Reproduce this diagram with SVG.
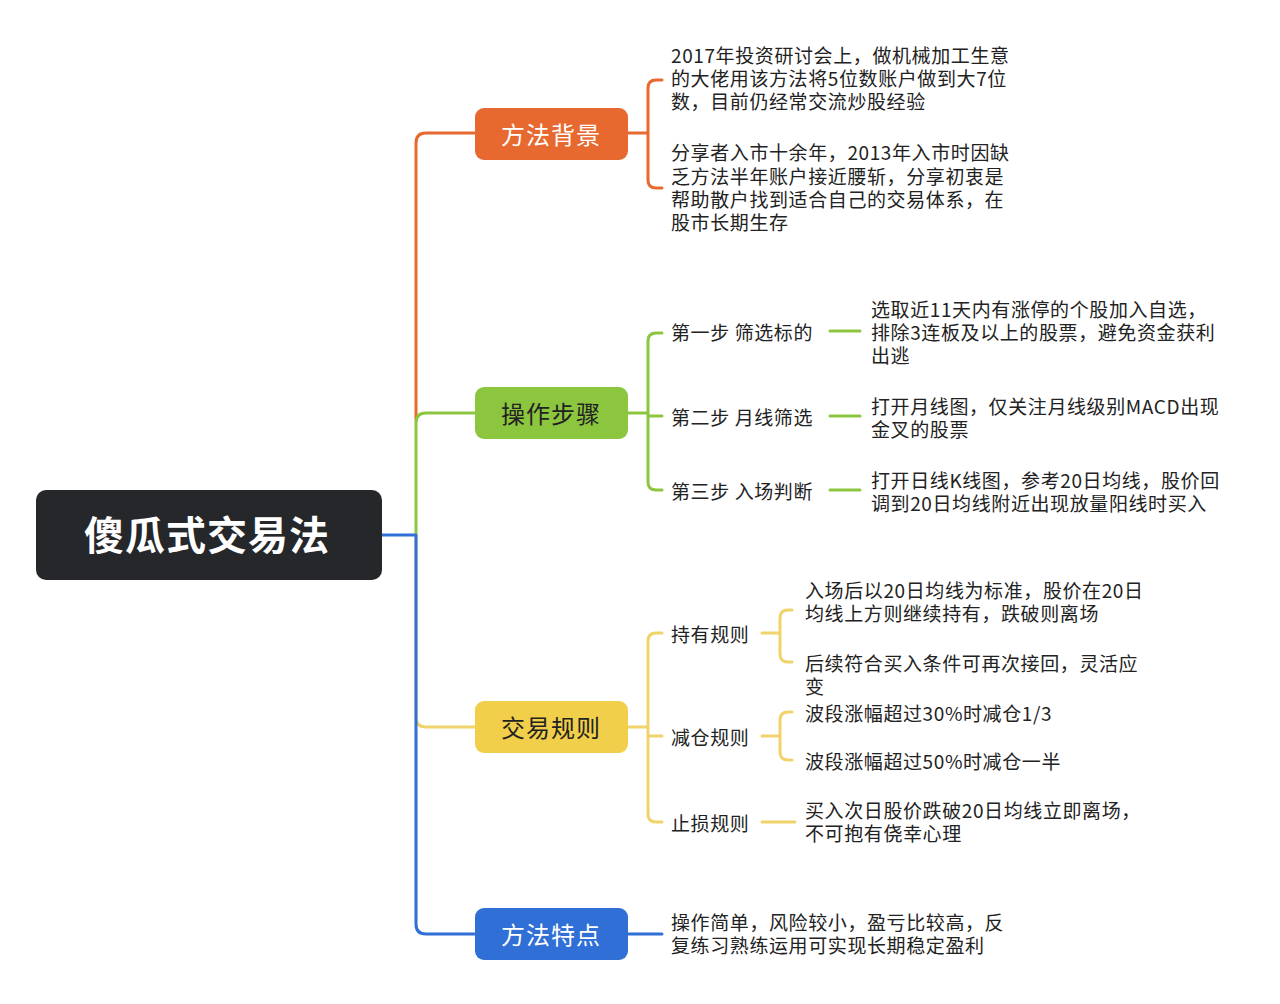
<svg xmlns="http://www.w3.org/2000/svg" width="1280" height="1004" viewBox="0 0 1280 1004">
<style>
text{font-family:"Noto Sans CJK SC","Noto Sans",sans-serif;font-size:19px;letter-spacing:0.6px;fill:#222;dominant-baseline:central}
.c{fill:none;stroke-width:3;stroke-linecap:round;stroke-linejoin:round}
.o{stroke:#e8692f}.g{stroke:#8cc63f}.y{stroke:#f0d36a}.b{stroke:#2f6fd6}
.bt{font-size:24px;text-anchor:middle;letter-spacing:1px}
</style>
<rect width="1280" height="1004" fill="#fff"/>
<g id="connectors">
<path class="c o" d="M416 420 V143 Q416 133 426 133 H475"/>
<path class="c g" d="M416 535 V423 Q416 413 426 413 H475"/>
<path class="c y" d="M416 535 V717 Q416 727 426 727 H475"/>
<path class="c b" d="M382 535 H416 V924 Q416 934 426 934 H475"/>
<path class="c o" d="M628 133 H648 M662 80 H656 Q648 80 648 88 V180 Q648 188 656 188 H662"/>
<path class="c g" d="M628 413 H648 M662 333 H656 Q648 333 648 341 V482 Q648 490 656 490 H662 M648 416 H662 M830 331 H860 M830 416 H860 M830 490 H860"/>
<path class="c y" d="M628 727 H648 M662 633 H656 Q648 633 648 641 V814 Q648 822 656 822 H662 M648 736 H662"/>
<path class="c y" d="M762 633 H780 M792 610 H788 Q780 610 780 618 V654 Q780 662 788 662 H792"/>
<path class="c y" d="M762 736 H780 M792 712 H788 Q780 712 780 720 V752 Q780 760 788 760 H792"/>
<path class="c y" d="M762 822 H795"/>
<path class="c b" d="M628 934 H662"/>
</g>
<g id="root"><rect x="36" y="490" width="346" height="90" rx="10" fill="#25272b"/><text x="207" y="533" font-weight="bold" text-anchor="middle" style="fill:#fff;font-size:40px;letter-spacing:1px">傻瓜式交易法</text></g>
<g id="n1"><rect x="475" y="108" width="153" height="52" rx="9" fill="#e8692f"/><text class="bt" x="551" y="133" style="fill:#fff">方法背景</text></g>
<g id="n2"><rect x="475" y="387" width="153" height="52" rx="9" fill="#8cc63f"/><text class="bt" x="551" y="412">操作步骤</text></g>
<g id="n3"><rect x="475" y="701" width="153" height="52" rx="9" fill="#f2cf4a"/><text class="bt" x="551" y="726">交易规则</text></g>
<g id="n4"><rect x="475" y="908" width="153" height="52" rx="9" fill="#2f6fd6"/><text class="bt" x="551" y="933" style="fill:#fff">方法特点</text></g>
<g id="t1"><text x="671" y="54">2017年投资研讨会上，做机械加工生意</text><text x="671" y="77">的大佬用该方法将5位数账户做到大7位</text><text x="671" y="100">数，目前仍经常交流炒股经验</text></g>
<g id="t2"><text x="671" y="151">分享者入市十余年，2013年入市时因缺</text><text x="671" y="175">乏方法半年账户接近腰斩，分享初衷是</text><text x="671" y="198">帮助散户找到适合自己的交易体系，在</text><text x="671" y="221">股市长期生存</text></g>
<g id="s1"><text x="671" y="331">第一步 筛选标的</text><text x="871" y="308">选取近11天内有涨停的个股加入自选，</text><text x="871" y="331">排除3连板及以上的股票，避免资金获利</text><text x="871" y="354">出逃</text></g>
<g id="s2"><text x="671" y="416">第二步 月线筛选</text><text x="871" y="405">打开月线图，仅关注月线级别MACD出现</text><text x="871" y="428">金叉的股票</text></g>
<g id="s3"><text x="671" y="490">第三步 入场判断</text><text x="871" y="479">打开日线K线图，参考20日均线，股价回</text><text x="871" y="502">调到20日均线附近出现放量阳线时买入</text></g>
<g id="r1"><text x="671" y="633">持有规则</text><text x="805" y="589">入场后以20日均线为标准，股价在20日</text><text x="805" y="612">均线上方则继续持有，跌破则离场</text><text x="805" y="662">后续符合买入条件可再次接回，灵活应</text><text x="805" y="685">变</text></g>
<g id="r2"><text x="671" y="736">减仓规则</text><text x="805" y="712">波段涨幅超过30%时减仓1/3</text><text x="805" y="760">波段涨幅超过50%时减仓一半</text></g>
<g id="r3"><text x="671" y="822">止损规则</text><text x="805" y="809">买入次日股价跌破20日均线立即离场，</text><text x="805" y="832">不可抱有侥幸心理</text></g>
<g id="f1"><text x="671" y="921">操作简单，风险较小，盈亏比较高，反</text><text x="671" y="944">复练习熟练运用可实现长期稳定盈利</text></g>
</svg>
